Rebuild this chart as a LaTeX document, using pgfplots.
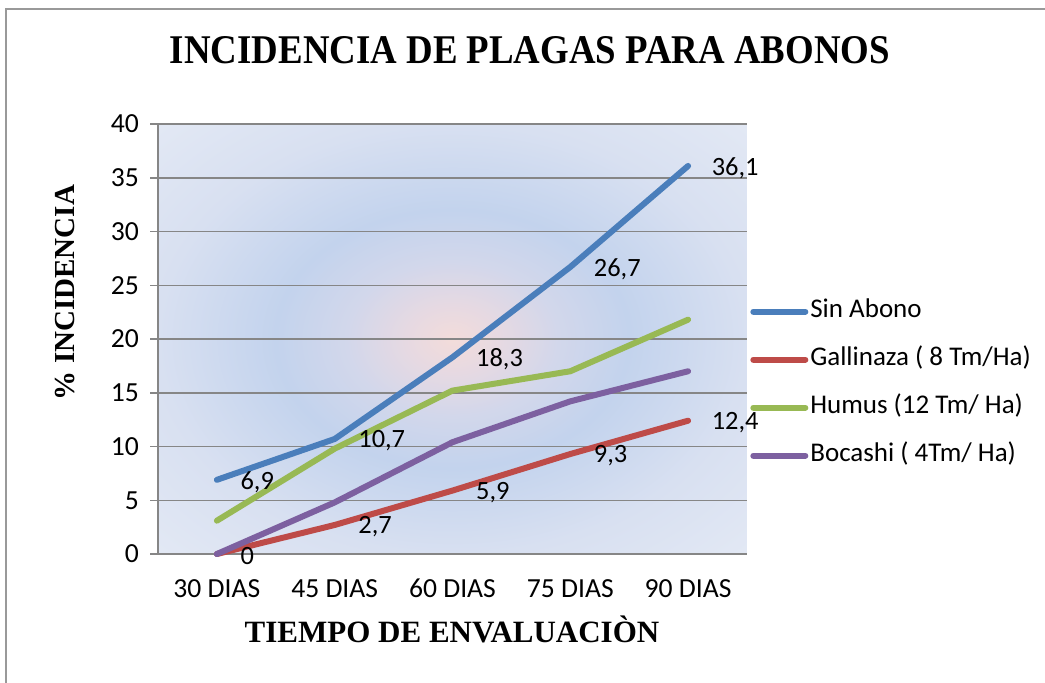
\documentclass[border=0pt]{standalone}
\usepackage{pgfplots}
\pgfplotsset{compat=1.18}
\usepackage{fontspec}
\setmainfont{Carlito}
\newfontfamily\tnr{Liberation Serif}
\definecolor{cBlue}{HTML}{4A7EBB}
\definecolor{cRed}{HTML}{BE4B48}
\definecolor{cGreen}{HTML}{98B954}
\definecolor{cPurple}{HTML}{7D60A0}
\definecolor{bgPink}{HTML}{F3DCDA}
\definecolor{bgPM}{HTML}{E6D9E2}
\definecolor{bgMid}{HTML}{D2D7EB}
\definecolor{bgBlue}{HTML}{C3D3ED}
\definecolor{bgEdge}{HTML}{D8E0F1}
\definecolor{bgCorner}{HTML}{E2E8F4}
\definecolor{gridc}{HTML}{868686}
\definecolor{framec}{HTML}{999999}
\pgfdeclareradialshading{plotbg}{\pgfpoint{0bp}{0bp}}{color(0bp)=(bgPink); color(4bp)=(bgPM); color(9bp)=(bgMid); color(15bp)=(bgBlue); color(25bp)=(bgEdge); color(35bp)=(bgCorner); color(50bp)=(bgCorner)}
\begin{document}
\begin{tikzpicture}
\path[use as bounding box] (0pt,0pt) rectangle (522.5pt,341pt);
\draw[framec, line width=0.9pt] (3pt,-2pt) -- (3pt,336.5pt) -- (525pt,336.5pt);
\node[anchor=base, inner sep=0pt] at (265pt,309pt) {\resizebox{360pt}{13.5pt}{\tnr\bfseries INCIDENCIA DE PLAGAS PARA ABONOS}};
\node[anchor=base, inner sep=0pt] at (226pt,20pt) {\tnr\bfseries\fontsize{15.5}{18}\selectfont TIEMPO DE ENVALUACIÒN};
\node[rotate=90, anchor=base, inner sep=0pt] at (37.5pt,194.75pt) {\tnr\bfseries\fontsize{14.5}{17}\selectfont \% INCIDENCIA};
\begin{axis}[
  at={(79pt,64pt)}, anchor=south west,
  width=294.5pt, height=215pt, scale only axis,
  xmin=-0.5, xmax=4.5, ymin=0, ymax=40,
  xtick={0,...,4}, xticklabels={30 DIAS,45 DIAS,60 DIAS,75 DIAS,90 DIAS},
  ytick={0,5,...,40},
  axis x line*=bottom, axis y line*=left,
  axis line style={gridc, line width=0.75pt},
  x tick style={draw=none},
  y tick style={gridc, line width=0.75pt},
  tick align=outside, major tick length=4pt,
  ymajorgrids, major grid style={gridc, line width=0.75pt},
  axis background/.style={shading=plotbg},
  tick label style={font=\fontsize{13.8}{16}\selectfont},
  xticklabel style={yshift=-4.5pt, text height=9.5pt, text depth=2pt},
  yticklabel style={xshift=-2pt},
  /pgf/number format/assume math mode=true,
  /pgf/number format/use comma,
  clip=false,
  legend cell align=left,
  legend style={at={(axis description cs:1.005,0.396)}, anchor=west, draw=none, fill=none,
    inner xsep=0pt, inner ysep=0pt, font=\fontsize{13.5}{16}\selectfont, row sep=12pt,
    nodes={text height=9pt, text depth=3pt, inner ysep=0pt, inner xsep=1pt}},
  legend image code/.code={\draw[#1, line cap=round] (0pt,0pt) -- (26pt,0pt);},
  every axis plot/.append style={line width=3pt, line join=round, line cap=round},
  every node near coord/.append style={anchor=west, xshift=7pt, yshift=-1pt, text=black, font=\fontsize{13.2}{16}\selectfont},
]
\addplot[cBlue, nodes near coords] coordinates {(0,6.9)(1,10.7)(2,18.3)(3,26.7)(4,36.1)};
\addplot[cRed, nodes near coords] coordinates {(0,0)(1,2.7)(2,5.9)(3,9.3)(4,12.4)};
\addplot[cGreen] coordinates {(0,3.1)(1,9.8)(2,15.2)(3,17.0)(4,21.8)};
\addplot[cPurple] coordinates {(0,0)(1,4.8)(2,10.4)(3,14.2)(4,17.0)};
\legend{Sin Abono, Gallinaza ( 8 Tm/Ha), Humus (12 Tm/ Ha), Bocashi ( 4Tm/ Ha)}
\end{axis}
\end{tikzpicture}
\end{document}
